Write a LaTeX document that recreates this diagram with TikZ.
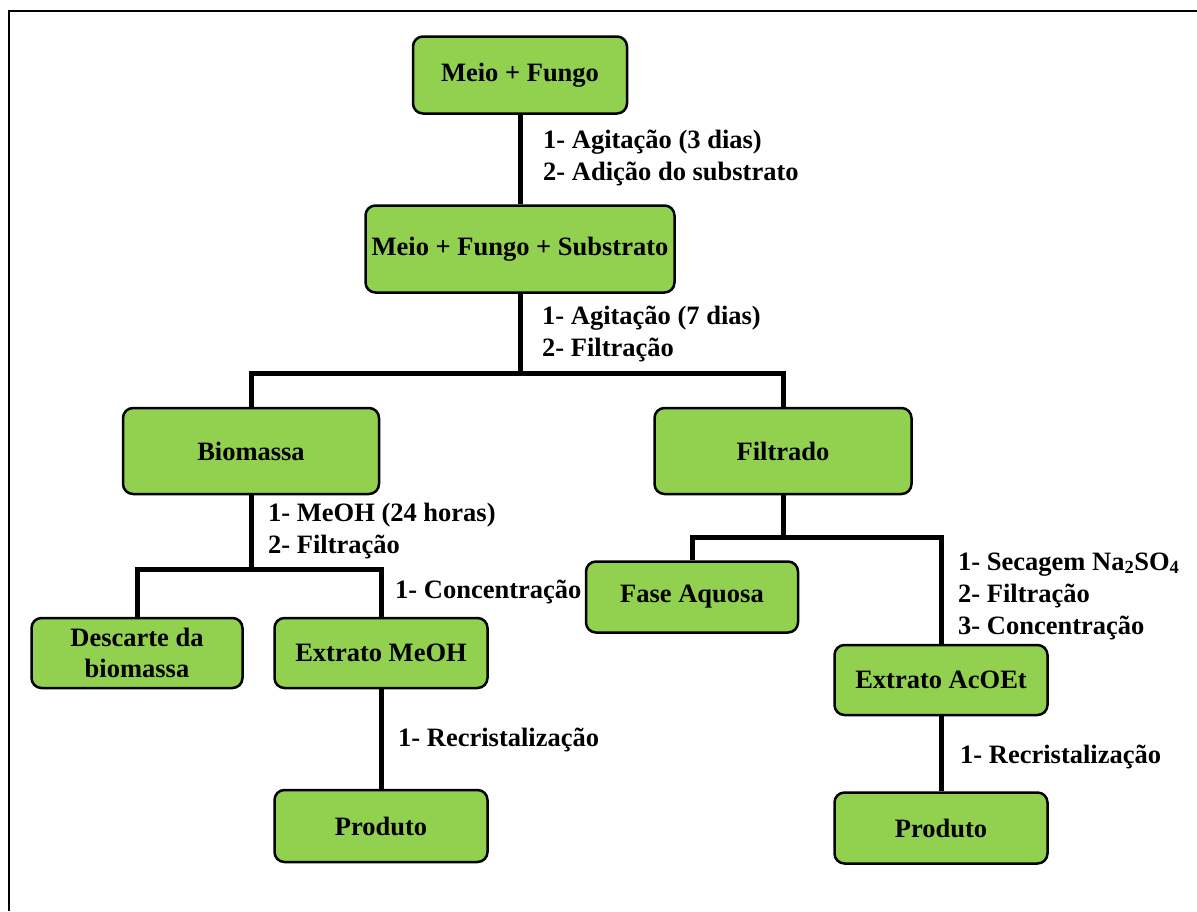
\documentclass[tikz,border=0pt]{standalone}
\usepackage{fontspec}
\setmainfont{Liberation Serif}
\usepackage{xcolor}
\definecolor{boxgreen}{HTML}{92D050}
\tikzset{
  box/.style={draw, line width=2.5pt, rounded corners=10pt, fill=boxgreen, align=center,
    font=\bfseries\fontsize{26.5}{31}\selectfont},
  link/.style={line width=5pt},
  steps/.style={right, inner sep=0pt, align=left, font=\bfseries\fontsize{26.5}{32}\selectfont}
}

\begin{document}
\begin{tikzpicture}[x=1pt, y=-1pt]
\useasboundingbox (0,0) rectangle (1197,911);

%frame
\draw[line width=2.5pt] (9,911) -- (9,11) -- (1197,11);

%boxes
\node[box, minimum width=214pt, minimum height=77pt] (meio) at (520,75) {Meio + Fungo};
\node[box, minimum width=309pt, minimum height=87pt] (sub) at (520,249) {Meio + Fungo + Substrato};
\node[box, minimum width=256pt, minimum height=86pt] (bio) at (251,451) {Biomassa};
\node[box, minimum width=257pt, minimum height=86pt] (fil) at (783,451) {Filtrado};
\node[box, minimum width=211pt, minimum height=70pt] (desc) at (137,653) {Descarte da\\biomassa};
\node[box, minimum width=213pt, minimum height=70pt] (extM) at (381,653) {Extrato MeOH};
\node[box, minimum width=213pt, minimum height=72pt] (prodM) at (381,826) {Produto};
\node[box, minimum width=212pt, minimum height=71pt] (fase) at (692,597) {Fase Aquosa};
\node[box, minimum width=213pt, minimum height=70pt] (extA) at (941,680) {Extrato AcOEt};
\node[box, minimum width=213pt, minimum height=71pt] (prodA) at (941,828) {Produto};

%junctions
\coordinate (barA) at (520,373);
\coordinate (barB) at (251,569);
\coordinate (barC) at (783,537);

%links
\draw[link] (meio) -- (sub);
\draw[link] (sub.south) -- (barA);
\draw[link] (bio.north) |- (barA) -| (fil.north);
\draw[link] (bio.south) -- (barB);
\draw[link] (desc.north) |- (barB) -| (extM.north);
\draw[link] (fil.south) -- (barC);
\draw[link] (fase.north) |- (barC) -| (extA.north);
\draw[link] (extM) -- (prodM);
\draw[link] (extA) -- (prodA);

%labels
\node[steps] (s1) at (543,158) {1- Agitação (3 dias)\\2- Adição do substrato};
\node[steps] (s2) at (542,334) {1- Agitação (7 dias)\\2- Filtração};
\node[steps] (s3) at (268,531) {1- MeOH (24 horas)\\2- Filtração};
\node[steps] (s4) at (395,592) {1- Concentração};
\node[steps] (s5) at (398,740) {1- Recristalização};
\node[steps] (s6) at (958,596) {1- Secagem Na\textsubscript{2}SO\textsubscript{4}\\2- Filtração\\3- Concentração};
\node[steps] (s7) at (960,757) {1- Recristalização};

\end{tikzpicture}
\end{document}
